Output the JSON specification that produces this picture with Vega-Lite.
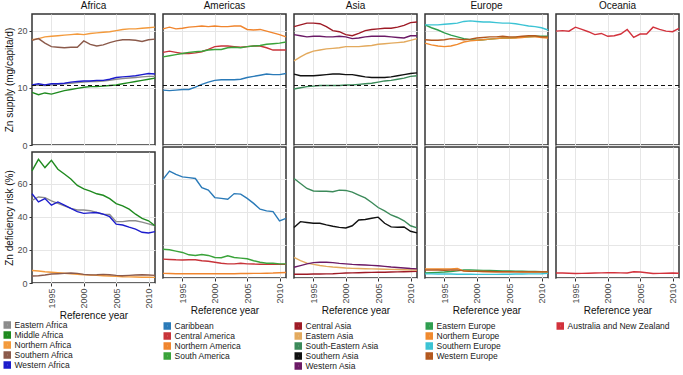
{
"$schema": "https://vega.github.io/schema/vega-lite/v6.json",
"padding": {"left": 3, "top": 0, "right": 2, "bottom": 0},
"background": "white",
"spacing": 0,
"config": {
  "font": "Liberation Sans",
  "view": {"stroke": "#333333", "strokeWidth": 1.5},
  "axis": {"labelFont": "Liberation Sans", "labelFontSize": 9, "labelColor": "#4d4d4d", "titleFont": "Liberation Sans", "titleFontSize": 10, "titleFontWeight": "normal", "titleColor": "#111", "gridColor": "#e6e6e6", "tickColor": "#333", "domain": false, "tickSize": 3, "labelPadding": 2, "titlePadding": 2},
  "title": {"font": "Liberation Sans", "fontSize": 10, "fontWeight": "normal", "color": "#111", "offset": 3},
  "legend": {"labelFont": "Liberation Sans", "labelFontSize": 8.5, "labelColor": "#222", "symbolType": "square", "symbolSize": 16, "symbolStrokeWidth": 3.5, "rowPadding": 0, "clipHeight": 10, "offset": 5, "padding": 0, "labelLimit": 200, "labelOffset": 3, "orient": "bottom", "direction": "vertical"}
},
"data": {"name": "zn"},
"resolve": {"scale": {"color": "independent"}, "legend": {"color": "independent"}},
"hconcat": [
 {"spacing": 0, "vconcat": [
  {"width": 123, "height": 131, "title": "Africa",
   "layer": [
    {"transform": [{"filter": {"field": "s", "oneOf": ["Eastern Africa","Middle Africa","Northern Africa","Southern Africa","Western Africa"]}}],
     "mark": {"type": "line", "strokeWidth": 1.4},
     "encoding": {
      "x": {"field": "yr", "type": "quantitative", "scale": {"domain": [1992, 2011], "nice": false, "zero": false}, "axis": {"values": [1995,2000,2005,2010], "labels": false, "ticks": false, "title": null, "tickSize": 0, "labelPadding": 0, "minExtent": 0, "maxExtent": 0}},
      "y": {"field": "sup", "type": "quantitative", "scale": {"domain": [0, 22.9], "nice": false}, "axis": {"values": [0,5,10,15,20], "title": "Zn supply (mg/capita/d)"}},
      "color": {"field": "s", "type": "nominal", "scale": {"domain": ["Eastern Africa","Middle Africa","Northern Africa","Southern Africa","Western Africa"], "range": ["#8c8c8c","#1f8a1f","#f39a3c","#8b5a4b","#1c1ccc"]}, "legend": {"title": null, "orient": "none", "legendX": -29, "legendY": 306}}}},
    {"data": {"values": [{"t": 10.4}]}, "mark": {"type": "rule", "strokeDash": [4,3], "color": "#111", "strokeWidth": 1}, "encoding": {"y": {"field": "t", "type": "quantitative"}}}
   ]},
  {"width": 123, "height": 131,
   "transform": [{"filter": {"field": "s", "oneOf": ["Eastern Africa","Middle Africa","Northern Africa","Southern Africa","Western Africa"]}}],
   "mark": {"type": "line", "strokeWidth": 1.4},
   "encoding": {
    "x": {"field": "yr", "type": "quantitative", "scale": {"domain": [1992, 2011], "nice": false, "zero": false}, "axis": {"values": [1995,2000,2005,2010], "format": "d", "labelAngle": -90, "title": "Reference year"}},
    "y": {"field": "risk", "type": "quantitative", "scale": {"domain": [0, 79], "nice": false}, "axis": {"values": [0,20,40,60], "title": "Zn deficiency risk (%)"}},
    "color": {"field": "s", "type": "nominal", "scale": {"domain": ["Eastern Africa","Middle Africa","Northern Africa","Southern Africa","Western Africa"], "range": ["#8c8c8c","#1f8a1f","#f39a3c","#8b5a4b","#1c1ccc"]}, "legend": {"title": null, "orient": "none", "legendX": -29, "legendY": 306}}}}
 ]},
 {"spacing": 0, "vconcat": [
  {"width": 123, "height": 131, "title": "Americas",
   "layer": [
    {"transform": [{"filter": {"field": "s", "oneOf": ["Caribbean","Central America","Northern America","South America"]}}],
     "mark": {"type": "line", "strokeWidth": 1.4},
     "encoding": {
      "x": {"field": "yr", "type": "quantitative", "scale": {"domain": [1992, 2011], "nice": false, "zero": false}, "axis": {"values": [1995,2000,2005,2010], "labels": false, "ticks": false, "title": null, "tickSize": 0, "labelPadding": 0, "minExtent": 0, "maxExtent": 0}},
      "y": {"field": "sup", "type": "quantitative", "scale": {"domain": [0, 22.9], "nice": false}, "axis": {"values": [0,5,10,15,20], "labels": false, "ticks": false, "title": null, "tickSize": 0, "labelPadding": 0, "minExtent": 0, "maxExtent": 0}},
      "color": {"field": "s", "type": "nominal", "scale": {"domain": ["Caribbean","Central America","Northern America","South America"], "range": ["#2a7ab8","#c8343a","#f0852e","#3aa33a"]}, "legend": {"title": null}}}},
    {"data": {"values": [{"t": 10.4}]}, "mark": {"type": "rule", "strokeDash": [4,3], "color": "#111", "strokeWidth": 1}, "encoding": {"y": {"field": "t", "type": "quantitative"}}}
   ]},
  {"width": 123, "height": 131,
   "transform": [{"filter": {"field": "s", "oneOf": ["Caribbean","Central America","Northern America","South America"]}}],
   "mark": {"type": "line", "strokeWidth": 1.4},
   "encoding": {
    "x": {"field": "yr", "type": "quantitative", "scale": {"domain": [1992, 2011], "nice": false, "zero": false}, "axis": {"values": [1995,2000,2005,2010], "format": "d", "labelAngle": -90, "title": "Reference year"}},
    "y": {"field": "risk", "type": "quantitative", "scale": {"domain": [0, 79], "nice": false}, "axis": {"values": [0,20,40,60], "labels": false, "ticks": false, "title": null, "tickSize": 0, "labelPadding": 0, "minExtent": 0, "maxExtent": 0}},
    "color": {"field": "s", "type": "nominal", "scale": {"domain": ["Caribbean","Central America","Northern America","South America"], "range": ["#2a7ab8","#c8343a","#f0852e","#3aa33a"]}, "legend": {"title": null}}}}
 ]},
 {"spacing": 0, "vconcat": [
  {"width": 123, "height": 131, "title": "Asia",
   "layer": [
    {"transform": [{"filter": {"field": "s", "oneOf": ["Central Asia","Eastern Asia","South-Eastern Asia","Southern Asia","Western Asia"]}}],
     "mark": {"type": "line", "strokeWidth": 1.4},
     "encoding": {
      "x": {"field": "yr", "type": "quantitative", "scale": {"domain": [1992, 2011], "nice": false, "zero": false}, "axis": {"values": [1995,2000,2005,2010], "labels": false, "ticks": false, "title": null, "tickSize": 0, "labelPadding": 0, "minExtent": 0, "maxExtent": 0}},
      "y": {"field": "sup", "type": "quantitative", "scale": {"domain": [0, 22.9], "nice": false}, "axis": {"values": [0,5,10,15,20], "labels": false, "ticks": false, "title": null, "tickSize": 0, "labelPadding": 0, "minExtent": 0, "maxExtent": 0}},
      "color": {"field": "s", "type": "nominal", "scale": {"domain": ["Central Asia","Eastern Asia","South-Eastern Asia","Southern Asia","Western Asia"], "range": ["#9e1b26","#e3aa5e","#3c8a5a","#111111","#6b1a66"]}, "legend": {"title": null}}}},
    {"data": {"values": [{"t": 10.4}]}, "mark": {"type": "rule", "strokeDash": [4,3], "color": "#111", "strokeWidth": 1}, "encoding": {"y": {"field": "t", "type": "quantitative"}}}
   ]},
  {"width": 123, "height": 131,
   "transform": [{"filter": {"field": "s", "oneOf": ["Central Asia","Eastern Asia","South-Eastern Asia","Southern Asia","Western Asia"]}}],
   "mark": {"type": "line", "strokeWidth": 1.4},
   "encoding": {
    "x": {"field": "yr", "type": "quantitative", "scale": {"domain": [1992, 2011], "nice": false, "zero": false}, "axis": {"values": [1995,2000,2005,2010], "format": "d", "labelAngle": -90, "title": "Reference year"}},
    "y": {"field": "risk", "type": "quantitative", "scale": {"domain": [0, 79], "nice": false}, "axis": {"values": [0,20,40,60], "labels": false, "ticks": false, "title": null, "tickSize": 0, "labelPadding": 0, "minExtent": 0, "maxExtent": 0}},
    "color": {"field": "s", "type": "nominal", "scale": {"domain": ["Central Asia","Eastern Asia","South-Eastern Asia","Southern Asia","Western Asia"], "range": ["#9e1b26","#e3aa5e","#3c8a5a","#111111","#6b1a66"]}, "legend": {"title": null}}}}
 ]},
 {"spacing": 0, "vconcat": [
  {"width": 123, "height": 131, "title": "Europe",
   "layer": [
    {"transform": [{"filter": {"field": "s", "oneOf": ["Eastern Europe","Northern Europe","Southern Europe","Western Europe"]}}],
     "mark": {"type": "line", "strokeWidth": 1.4},
     "encoding": {
      "x": {"field": "yr", "type": "quantitative", "scale": {"domain": [1992, 2011], "nice": false, "zero": false}, "axis": {"values": [1995,2000,2005,2010], "labels": false, "ticks": false, "title": null, "tickSize": 0, "labelPadding": 0, "minExtent": 0, "maxExtent": 0}},
      "y": {"field": "sup", "type": "quantitative", "scale": {"domain": [0, 22.9], "nice": false}, "axis": {"values": [0,5,10,15,20], "labels": false, "ticks": false, "title": null, "tickSize": 0, "labelPadding": 0, "minExtent": 0, "maxExtent": 0}},
      "color": {"field": "s", "type": "nominal", "scale": {"domain": ["Eastern Europe","Northern Europe","Southern Europe","Western Europe"], "range": ["#2f9e4f","#f08a2e","#3cc3d4","#b3581e"]}, "legend": {"title": null}}}},
    {"data": {"values": [{"t": 10.4}]}, "mark": {"type": "rule", "strokeDash": [4,3], "color": "#111", "strokeWidth": 1}, "encoding": {"y": {"field": "t", "type": "quantitative"}}}
   ]},
  {"width": 123, "height": 131,
   "transform": [{"filter": {"field": "s", "oneOf": ["Eastern Europe","Northern Europe","Southern Europe","Western Europe"]}}],
   "mark": {"type": "line", "strokeWidth": 1.4},
   "encoding": {
    "x": {"field": "yr", "type": "quantitative", "scale": {"domain": [1992, 2011], "nice": false, "zero": false}, "axis": {"values": [1995,2000,2005,2010], "format": "d", "labelAngle": -90, "title": "Reference year"}},
    "y": {"field": "risk", "type": "quantitative", "scale": {"domain": [0, 79], "nice": false}, "axis": {"values": [0,20,40,60], "labels": false, "ticks": false, "title": null, "tickSize": 0, "labelPadding": 0, "minExtent": 0, "maxExtent": 0}},
    "color": {"field": "s", "type": "nominal", "scale": {"domain": ["Eastern Europe","Northern Europe","Southern Europe","Western Europe"], "range": ["#2f9e4f","#f08a2e","#3cc3d4","#b3581e"]}, "legend": {"title": null}}}}
 ]},
 {"spacing": 0, "vconcat": [
  {"width": 123, "height": 131, "title": "Oceania",
   "layer": [
    {"transform": [{"filter": {"field": "s", "oneOf": ["Australia and New Zealand"]}}],
     "mark": {"type": "line", "strokeWidth": 1.4},
     "encoding": {
      "x": {"field": "yr", "type": "quantitative", "scale": {"domain": [1992, 2011], "nice": false, "zero": false}, "axis": {"values": [1995,2000,2005,2010], "labels": false, "ticks": false, "title": null, "tickSize": 0, "labelPadding": 0, "minExtent": 0, "maxExtent": 0}},
      "y": {"field": "sup", "type": "quantitative", "scale": {"domain": [0, 22.9], "nice": false}, "axis": {"values": [0,5,10,15,20], "labels": false, "ticks": false, "title": null, "tickSize": 0, "labelPadding": 0, "minExtent": 0, "maxExtent": 0}},
      "color": {"field": "s", "type": "nominal", "scale": {"domain": ["Australia and New Zealand"], "range": ["#d2323c"]}, "legend": {"title": null}}}},
    {"data": {"values": [{"t": 10.4}]}, "mark": {"type": "rule", "strokeDash": [4,3], "color": "#111", "strokeWidth": 1}, "encoding": {"y": {"field": "t", "type": "quantitative"}}}
   ]},
  {"width": 123, "height": 131,
   "transform": [{"filter": {"field": "s", "oneOf": ["Australia and New Zealand"]}}],
   "mark": {"type": "line", "strokeWidth": 1.4},
   "encoding": {
    "x": {"field": "yr", "type": "quantitative", "scale": {"domain": [1992, 2011], "nice": false, "zero": false}, "axis": {"values": [1995,2000,2005,2010], "format": "d", "labelAngle": -90, "title": "Reference year"}},
    "y": {"field": "risk", "type": "quantitative", "scale": {"domain": [0, 79], "nice": false}, "axis": {"values": [0,20,40,60], "labels": false, "ticks": false, "title": null, "tickSize": 0, "labelPadding": 0, "minExtent": 0, "maxExtent": 0}},
    "color": {"field": "s", "type": "nominal", "scale": {"domain": ["Australia and New Zealand"], "range": ["#d2323c"]}, "legend": {"title": null}}}}
 ]}
],
"datasets": {"zn": [
{"s":"Eastern Africa","yr":1992,"sup":10.4,"risk":49.9},{"s":"Eastern Africa","yr":1993,"sup":10.5,"risk":51.9},{"s":"Eastern Africa","yr":1994,"sup":10.4,"risk":51.5},{"s":"Eastern Africa","yr":1995,"sup":10.5,"risk":49.5},{"s":"Eastern Africa","yr":1996,"sup":10.6,"risk":48.0},{"s":"Eastern Africa","yr":1997,"sup":10.7,"risk":46.5},{"s":"Eastern Africa","yr":1998,"sup":10.8,"risk":45.0},{"s":"Eastern Africa","yr":1999,"sup":10.9,"risk":44.0},{"s":"Eastern Africa","yr":2000,"sup":11.0,"risk":44.0},{"s":"Eastern Africa","yr":2001,"sup":11.1,"risk":43.6},{"s":"Eastern Africa","yr":2002,"sup":11.1,"risk":42.5},{"s":"Eastern Africa","yr":2003,"sup":11.2,"risk":41.5},{"s":"Eastern Africa","yr":2004,"sup":11.3,"risk":41.3},{"s":"Eastern Africa","yr":2005,"sup":11.5,"risk":37.0},{"s":"Eastern Africa","yr":2006,"sup":11.6,"risk":37.0},{"s":"Eastern Africa","yr":2007,"sup":11.7,"risk":37.5},{"s":"Eastern Africa","yr":2008,"sup":11.8,"risk":37.5},{"s":"Eastern Africa","yr":2009,"sup":11.9,"risk":36.7},{"s":"Eastern Africa","yr":2010,"sup":12.0,"risk":35.7},{"s":"Eastern Africa","yr":2011,"sup":12.0,"risk":34.5},
{"s":"Middle Africa","yr":1992,"sup":9.2,"risk":67.6},{"s":"Middle Africa","yr":1993,"sup":8.8,"risk":74.6},{"s":"Middle Africa","yr":1994,"sup":9.1,"risk":69.6},{"s":"Middle Africa","yr":1995,"sup":8.9,"risk":74.0},{"s":"Middle Africa","yr":1996,"sup":9.2,"risk":68.6},{"s":"Middle Africa","yr":1997,"sup":9.5,"risk":65.7},{"s":"Middle Africa","yr":1998,"sup":9.7,"risk":62.7},{"s":"Middle Africa","yr":1999,"sup":9.9,"risk":58.8},{"s":"Middle Africa","yr":2000,"sup":10.1,"risk":56.8},{"s":"Middle Africa","yr":2001,"sup":10.2,"risk":55.4},{"s":"Middle Africa","yr":2002,"sup":10.2,"risk":53.8},{"s":"Middle Africa","yr":2003,"sup":10.3,"risk":52.9},{"s":"Middle Africa","yr":2004,"sup":10.4,"risk":50.9},{"s":"Middle Africa","yr":2005,"sup":10.5,"risk":47.9},{"s":"Middle Africa","yr":2006,"sup":10.7,"risk":46.5},{"s":"Middle Africa","yr":2007,"sup":10.9,"risk":44.5},{"s":"Middle Africa","yr":2008,"sup":11.1,"risk":41.5},{"s":"Middle Africa","yr":2009,"sup":11.3,"risk":39.0},{"s":"Middle Africa","yr":2010,"sup":11.5,"risk":37.5},{"s":"Middle Africa","yr":2011,"sup":11.7,"risk":34.5},
{"s":"Northern Africa","yr":1992,"sup":18.4,"risk":7.5},{"s":"Northern Africa","yr":1993,"sup":18.6,"risk":7.2},{"s":"Northern Africa","yr":1994,"sup":18.9,"risk":6.8},{"s":"Northern Africa","yr":1995,"sup":19.0,"risk":6.5},{"s":"Northern Africa","yr":1996,"sup":19.1,"risk":6.2},{"s":"Northern Africa","yr":1997,"sup":19.2,"risk":5.9},{"s":"Northern Africa","yr":1998,"sup":19.3,"risk":5.6},{"s":"Northern Africa","yr":1999,"sup":19.4,"risk":5.3},{"s":"Northern Africa","yr":2000,"sup":19.3,"risk":5.0},{"s":"Northern Africa","yr":2001,"sup":19.5,"risk":4.8},{"s":"Northern Africa","yr":2002,"sup":19.6,"risk":4.6},{"s":"Northern Africa","yr":2003,"sup":19.7,"risk":4.4},{"s":"Northern Africa","yr":2004,"sup":19.8,"risk":4.2},{"s":"Northern Africa","yr":2005,"sup":20.0,"risk":4.0},{"s":"Northern Africa","yr":2006,"sup":20.2,"risk":3.8},{"s":"Northern Africa","yr":2007,"sup":20.3,"risk":3.7},{"s":"Northern Africa","yr":2008,"sup":20.3,"risk":3.6},{"s":"Northern Africa","yr":2009,"sup":20.4,"risk":3.5},{"s":"Northern Africa","yr":2010,"sup":20.5,"risk":3.5},{"s":"Northern Africa","yr":2011,"sup":20.6,"risk":3.4},
{"s":"Southern Africa","yr":1992,"sup":18.3,"risk":4.2},{"s":"Southern Africa","yr":1993,"sup":18.6,"risk":4.4},{"s":"Southern Africa","yr":1994,"sup":17.8,"risk":4.8},{"s":"Southern Africa","yr":1995,"sup":17.2,"risk":5.4},{"s":"Southern Africa","yr":1996,"sup":17.1,"risk":5.6},{"s":"Southern Africa","yr":1997,"sup":17.0,"risk":5.8},{"s":"Southern Africa","yr":1998,"sup":17.1,"risk":6.0},{"s":"Southern Africa","yr":1999,"sup":17.1,"risk":5.8},{"s":"Southern Africa","yr":2000,"sup":18.2,"risk":5.2},{"s":"Southern Africa","yr":2001,"sup":17.6,"risk":4.9},{"s":"Southern Africa","yr":2002,"sup":17.3,"risk":5.0},{"s":"Southern Africa","yr":2003,"sup":17.5,"risk":5.2},{"s":"Southern Africa","yr":2004,"sup":17.9,"risk":5.0},{"s":"Southern Africa","yr":2005,"sup":18.2,"risk":4.6},{"s":"Southern Africa","yr":2006,"sup":18.4,"risk":4.4},{"s":"Southern Africa","yr":2007,"sup":18.4,"risk":4.6},{"s":"Southern Africa","yr":2008,"sup":18.3,"risk":4.8},{"s":"Southern Africa","yr":2009,"sup":18.1,"risk":5.0},{"s":"Southern Africa","yr":2010,"sup":18.4,"risk":4.8},{"s":"Southern Africa","yr":2011,"sup":18.5,"risk":4.6},
{"s":"Western Africa","yr":1992,"sup":10.5,"risk":53.8},{"s":"Western Africa","yr":1993,"sup":10.7,"risk":48.9},{"s":"Western Africa","yr":1994,"sup":10.5,"risk":50.9},{"s":"Western Africa","yr":1995,"sup":10.7,"risk":46.9},{"s":"Western Africa","yr":1996,"sup":10.7,"risk":48.9},{"s":"Western Africa","yr":1997,"sup":10.8,"risk":46.9},{"s":"Western Africa","yr":1998,"sup":11.0,"risk":45.0},{"s":"Western Africa","yr":1999,"sup":11.1,"risk":43.0},{"s":"Western Africa","yr":2000,"sup":11.2,"risk":42.0},{"s":"Western Africa","yr":2001,"sup":11.2,"risk":42.3},{"s":"Western Africa","yr":2002,"sup":11.3,"risk":42.5},{"s":"Western Africa","yr":2003,"sup":11.3,"risk":41.5},{"s":"Western Africa","yr":2004,"sup":11.5,"risk":40.0},{"s":"Western Africa","yr":2005,"sup":11.8,"risk":35.5},{"s":"Western Africa","yr":2006,"sup":11.9,"risk":35.0},{"s":"Western Africa","yr":2007,"sup":12.0,"risk":33.7},{"s":"Western Africa","yr":2008,"sup":12.1,"risk":32.5},{"s":"Western Africa","yr":2009,"sup":12.3,"risk":30.6},{"s":"Western Africa","yr":2010,"sup":12.5,"risk":30.2},{"s":"Western Africa","yr":2011,"sup":12.4,"risk":31.0},
{"s":"Caribbean","yr":1992,"sup":9.6,"risk":59.5},{"s":"Caribbean","yr":1993,"sup":9.5,"risk":64.5},{"s":"Caribbean","yr":1994,"sup":9.6,"risk":62.5},{"s":"Caribbean","yr":1995,"sup":9.7,"risk":61.0},{"s":"Caribbean","yr":1996,"sup":9.7,"risk":60.5},{"s":"Caribbean","yr":1997,"sup":10.1,"risk":60.0},{"s":"Caribbean","yr":1998,"sup":10.6,"risk":54.5},{"s":"Caribbean","yr":1999,"sup":11.0,"risk":53.0},{"s":"Caribbean","yr":2000,"sup":11.3,"risk":48.5},{"s":"Caribbean","yr":2001,"sup":11.4,"risk":48.0},{"s":"Caribbean","yr":2002,"sup":11.4,"risk":47.5},{"s":"Caribbean","yr":2003,"sup":11.4,"risk":50.9},{"s":"Caribbean","yr":2004,"sup":11.5,"risk":50.6},{"s":"Caribbean","yr":2005,"sup":11.8,"risk":48.0},{"s":"Caribbean","yr":2006,"sup":12.0,"risk":45.0},{"s":"Caribbean","yr":2007,"sup":12.2,"risk":41.5},{"s":"Caribbean","yr":2008,"sup":12.4,"risk":40.5},{"s":"Caribbean","yr":2009,"sup":12.3,"risk":40.0},{"s":"Caribbean","yr":2010,"sup":12.3,"risk":34.5},{"s":"Caribbean","yr":2011,"sup":12.5,"risk":36.0},
{"s":"Central America","yr":1992,"sup":16.2,"risk":11.4},{"s":"Central America","yr":1993,"sup":16.4,"risk":11.2},{"s":"Central America","yr":1994,"sup":16.2,"risk":11.0},{"s":"Central America","yr":1995,"sup":16.0,"risk":10.9},{"s":"Central America","yr":1996,"sup":16.0,"risk":11.0},{"s":"Central America","yr":1997,"sup":16.1,"risk":11.0},{"s":"Central America","yr":1998,"sup":16.3,"risk":10.4},{"s":"Central America","yr":1999,"sup":16.7,"risk":10.1},{"s":"Central America","yr":2000,"sup":17.2,"risk":9.5},{"s":"Central America","yr":2001,"sup":17.3,"risk":8.9},{"s":"Central America","yr":2002,"sup":17.3,"risk":8.5},{"s":"Central America","yr":2003,"sup":17.2,"risk":8.5},{"s":"Central America","yr":2004,"sup":17.1,"risk":8.9},{"s":"Central America","yr":2005,"sup":17.2,"risk":8.5},{"s":"Central America","yr":2006,"sup":17.3,"risk":8.4},{"s":"Central America","yr":2007,"sup":17.3,"risk":8.3},{"s":"Central America","yr":2008,"sup":17.0,"risk":8.2},{"s":"Central America","yr":2009,"sup":16.6,"risk":8.2},{"s":"Central America","yr":2010,"sup":16.6,"risk":8.2},{"s":"Central America","yr":2011,"sup":16.6,"risk":8.2},
{"s":"Northern America","yr":1992,"sup":20.3,"risk":2.8},{"s":"Northern America","yr":1993,"sup":20.6,"risk":2.7},{"s":"Northern America","yr":1994,"sup":20.3,"risk":2.6},{"s":"Northern America","yr":1995,"sup":20.4,"risk":2.6},{"s":"Northern America","yr":1996,"sup":20.6,"risk":2.6},{"s":"Northern America","yr":1997,"sup":20.7,"risk":2.6},{"s":"Northern America","yr":1998,"sup":20.8,"risk":2.6},{"s":"Northern America","yr":1999,"sup":20.7,"risk":2.6},{"s":"Northern America","yr":2000,"sup":20.8,"risk":2.6},{"s":"Northern America","yr":2001,"sup":20.7,"risk":2.6},{"s":"Northern America","yr":2002,"sup":20.7,"risk":2.6},{"s":"Northern America","yr":2003,"sup":20.8,"risk":2.6},{"s":"Northern America","yr":2004,"sup":20.8,"risk":2.7},{"s":"Northern America","yr":2005,"sup":20.2,"risk":2.7},{"s":"Northern America","yr":2006,"sup":20.1,"risk":2.8},{"s":"Northern America","yr":2007,"sup":20.2,"risk":2.8},{"s":"Northern America","yr":2008,"sup":19.9,"risk":2.9},{"s":"Northern America","yr":2009,"sup":19.6,"risk":3.0},{"s":"Northern America","yr":2010,"sup":19.3,"risk":3.2},{"s":"Northern America","yr":2011,"sup":18.9,"risk":3.3},
{"s":"South America","yr":1992,"sup":15.4,"risk":17.3},{"s":"South America","yr":1993,"sup":15.6,"risk":17.0},{"s":"South America","yr":1994,"sup":15.8,"risk":16.2},{"s":"South America","yr":1995,"sup":16.0,"risk":15.4},{"s":"South America","yr":1996,"sup":16.2,"risk":14.0},{"s":"South America","yr":1997,"sup":16.3,"risk":13.6},{"s":"South America","yr":1998,"sup":16.4,"risk":14.2},{"s":"South America","yr":1999,"sup":16.6,"risk":13.6},{"s":"South America","yr":2000,"sup":16.7,"risk":12.4},{"s":"South America","yr":2001,"sup":16.7,"risk":12.2},{"s":"South America","yr":2002,"sup":17.0,"risk":13.4},{"s":"South America","yr":2003,"sup":17.1,"risk":12.4},{"s":"South America","yr":2004,"sup":17.0,"risk":12.0},{"s":"South America","yr":2005,"sup":17.2,"risk":11.6},{"s":"South America","yr":2006,"sup":17.3,"risk":10.4},{"s":"South America","yr":2007,"sup":17.4,"risk":9.5},{"s":"South America","yr":2008,"sup":17.6,"risk":8.9},{"s":"South America","yr":2009,"sup":17.7,"risk":8.9},{"s":"South America","yr":2010,"sup":17.8,"risk":8.5},{"s":"South America","yr":2011,"sup":18.0,"risk":8.5},
{"s":"Central Asia","yr":1992,"sup":20.7,"risk":2.3},{"s":"Central Asia","yr":1993,"sup":21.0,"risk":2.3},{"s":"Central Asia","yr":1994,"sup":21.3,"risk":2.3},{"s":"Central Asia","yr":1995,"sup":21.3,"risk":2.4},{"s":"Central Asia","yr":1996,"sup":21.2,"risk":2.4},{"s":"Central Asia","yr":1997,"sup":20.7,"risk":2.5},{"s":"Central Asia","yr":1998,"sup":20.0,"risk":2.6},{"s":"Central Asia","yr":1999,"sup":19.8,"risk":2.8},{"s":"Central Asia","yr":2000,"sup":19.3,"risk":3.0},{"s":"Central Asia","yr":2001,"sup":19.1,"risk":3.1},{"s":"Central Asia","yr":2002,"sup":19.5,"risk":3.2},{"s":"Central Asia","yr":2003,"sup":20.0,"risk":3.3},{"s":"Central Asia","yr":2004,"sup":20.2,"risk":3.4},{"s":"Central Asia","yr":2005,"sup":20.3,"risk":3.5},{"s":"Central Asia","yr":2006,"sup":20.4,"risk":3.5},{"s":"Central Asia","yr":2007,"sup":20.4,"risk":3.6},{"s":"Central Asia","yr":2008,"sup":20.6,"risk":3.7},{"s":"Central Asia","yr":2009,"sup":20.9,"risk":3.8},{"s":"Central Asia","yr":2010,"sup":21.4,"risk":3.9},{"s":"Central Asia","yr":2011,"sup":21.5,"risk":4.0},
{"s":"Eastern Asia","yr":1992,"sup":14.7,"risk":12.4},{"s":"Eastern Asia","yr":1993,"sup":15.4,"risk":10.5},{"s":"Eastern Asia","yr":1994,"sup":16.0,"risk":9.0},{"s":"Eastern Asia","yr":1995,"sup":16.4,"risk":8.2},{"s":"Eastern Asia","yr":1996,"sup":16.6,"risk":7.5},{"s":"Eastern Asia","yr":1997,"sup":16.8,"risk":7.0},{"s":"Eastern Asia","yr":1998,"sup":16.9,"risk":6.6},{"s":"Eastern Asia","yr":1999,"sup":17.0,"risk":6.3},{"s":"Eastern Asia","yr":2000,"sup":17.2,"risk":6.0},{"s":"Eastern Asia","yr":2001,"sup":17.2,"risk":5.8},{"s":"Eastern Asia","yr":2002,"sup":17.2,"risk":5.7},{"s":"Eastern Asia","yr":2003,"sup":17.3,"risk":5.6},{"s":"Eastern Asia","yr":2004,"sup":17.4,"risk":5.5},{"s":"Eastern Asia","yr":2005,"sup":17.6,"risk":5.4},{"s":"Eastern Asia","yr":2006,"sup":17.7,"risk":5.3},{"s":"Eastern Asia","yr":2007,"sup":17.8,"risk":5.2},{"s":"Eastern Asia","yr":2008,"sup":17.9,"risk":5.1},{"s":"Eastern Asia","yr":2009,"sup":18.0,"risk":5.0},{"s":"Eastern Asia","yr":2010,"sup":18.3,"risk":4.9},{"s":"Eastern Asia","yr":2011,"sup":18.6,"risk":4.8},
{"s":"South-Eastern Asia","yr":1992,"sup":9.8,"risk":60.0},{"s":"South-Eastern Asia","yr":1993,"sup":10.0,"risk":57.0},{"s":"South-Eastern Asia","yr":1994,"sup":10.2,"risk":54.0},{"s":"South-Eastern Asia","yr":1995,"sup":10.3,"risk":52.5},{"s":"South-Eastern Asia","yr":1996,"sup":10.4,"risk":52.3},{"s":"South-Eastern Asia","yr":1997,"sup":10.4,"risk":52.3},{"s":"South-Eastern Asia","yr":1998,"sup":10.4,"risk":52.0},{"s":"South-Eastern Asia","yr":1999,"sup":10.4,"risk":53.0},{"s":"South-Eastern Asia","yr":2000,"sup":10.5,"risk":52.8},{"s":"South-Eastern Asia","yr":2001,"sup":10.5,"risk":51.8},{"s":"South-Eastern Asia","yr":2002,"sup":10.6,"risk":50.0},{"s":"South-Eastern Asia","yr":2003,"sup":10.7,"risk":48.3},{"s":"South-Eastern Asia","yr":2004,"sup":10.8,"risk":45.5},{"s":"South-Eastern Asia","yr":2005,"sup":11.0,"risk":42.5},{"s":"South-Eastern Asia","yr":2006,"sup":11.2,"risk":40.5},{"s":"South-Eastern Asia","yr":2007,"sup":11.3,"risk":38.0},{"s":"South-Eastern Asia","yr":2008,"sup":11.5,"risk":36.5},{"s":"South-Eastern Asia","yr":2009,"sup":11.7,"risk":34.5},{"s":"South-Eastern Asia","yr":2010,"sup":12.0,"risk":31.5},{"s":"South-Eastern Asia","yr":2011,"sup":12.1,"risk":30.2},
{"s":"Southern Asia","yr":1992,"sup":12.4,"risk":30.5},{"s":"Southern Asia","yr":1993,"sup":12.1,"risk":34.0},{"s":"Southern Asia","yr":1994,"sup":12.1,"risk":33.5},{"s":"Southern Asia","yr":1995,"sup":12.1,"risk":33.0},{"s":"Southern Asia","yr":1996,"sup":12.2,"risk":33.0},{"s":"Southern Asia","yr":1997,"sup":12.3,"risk":32.0},{"s":"Southern Asia","yr":1998,"sup":12.4,"risk":31.2},{"s":"Southern Asia","yr":1999,"sup":12.4,"risk":30.5},{"s":"Southern Asia","yr":2000,"sup":12.3,"risk":30.2},{"s":"Southern Asia","yr":2001,"sup":12.3,"risk":31.5},{"s":"Southern Asia","yr":2002,"sup":12.1,"risk":35.0},{"s":"Southern Asia","yr":2003,"sup":11.9,"risk":35.3},{"s":"Southern Asia","yr":2004,"sup":11.8,"risk":36.0},{"s":"Southern Asia","yr":2005,"sup":11.8,"risk":36.7},{"s":"Southern Asia","yr":2006,"sup":11.8,"risk":33.0},{"s":"Southern Asia","yr":2007,"sup":11.9,"risk":30.8},{"s":"Southern Asia","yr":2008,"sup":12.1,"risk":30.6},{"s":"Southern Asia","yr":2009,"sup":12.3,"risk":30.8},{"s":"Southern Asia","yr":2010,"sup":12.5,"risk":28.2},{"s":"Southern Asia","yr":2011,"sup":12.6,"risk":27.2},
{"s":"Western Asia","yr":1992,"sup":19.3,"risk":6.5},{"s":"Western Asia","yr":1993,"sup":19.1,"risk":7.5},{"s":"Western Asia","yr":1994,"sup":18.9,"risk":8.5},{"s":"Western Asia","yr":1995,"sup":19.0,"risk":9.3},{"s":"Western Asia","yr":1996,"sup":19.0,"risk":9.5},{"s":"Western Asia","yr":1997,"sup":18.9,"risk":9.5},{"s":"Western Asia","yr":1998,"sup":18.9,"risk":9.3},{"s":"Western Asia","yr":1999,"sup":19.0,"risk":8.8},{"s":"Western Asia","yr":2000,"sup":18.9,"risk":8.5},{"s":"Western Asia","yr":2001,"sup":18.6,"risk":8.2},{"s":"Western Asia","yr":2002,"sup":18.7,"risk":8.0},{"s":"Western Asia","yr":2003,"sup":18.9,"risk":7.8},{"s":"Western Asia","yr":2004,"sup":19.0,"risk":7.6},{"s":"Western Asia","yr":2005,"sup":19.0,"risk":7.4},{"s":"Western Asia","yr":2006,"sup":19.0,"risk":7.0},{"s":"Western Asia","yr":2007,"sup":18.9,"risk":6.6},{"s":"Western Asia","yr":2008,"sup":18.8,"risk":6.3},{"s":"Western Asia","yr":2009,"sup":18.7,"risk":6.0},{"s":"Western Asia","yr":2010,"sup":19.1,"risk":5.7},{"s":"Western Asia","yr":2011,"sup":19.1,"risk":5.5},
{"s":"Eastern Europe","yr":1992,"sup":21.0,"risk":3.0},{"s":"Eastern Europe","yr":1993,"sup":20.5,"risk":3.2},{"s":"Eastern Europe","yr":1994,"sup":20.1,"risk":3.4},{"s":"Eastern Europe","yr":1995,"sup":19.6,"risk":3.6},{"s":"Eastern Europe","yr":1996,"sup":19.2,"risk":3.9},{"s":"Eastern Europe","yr":1997,"sup":18.9,"risk":4.3},{"s":"Eastern Europe","yr":1998,"sup":18.6,"risk":4.8},{"s":"Eastern Europe","yr":1999,"sup":18.4,"risk":4.8},{"s":"Eastern Europe","yr":2000,"sup":18.3,"risk":4.7},{"s":"Eastern Europe","yr":2001,"sup":18.4,"risk":4.6},{"s":"Eastern Europe","yr":2002,"sup":18.5,"risk":4.5},{"s":"Eastern Europe","yr":2003,"sup":18.6,"risk":4.4},{"s":"Eastern Europe","yr":2004,"sup":18.7,"risk":4.3},{"s":"Eastern Europe","yr":2005,"sup":18.7,"risk":4.2},{"s":"Eastern Europe","yr":2006,"sup":18.8,"risk":4.1},{"s":"Eastern Europe","yr":2007,"sup":18.9,"risk":4.1},{"s":"Eastern Europe","yr":2008,"sup":18.9,"risk":4.0},{"s":"Eastern Europe","yr":2009,"sup":19.0,"risk":3.9},{"s":"Eastern Europe","yr":2010,"sup":19.0,"risk":3.8},{"s":"Eastern Europe","yr":2011,"sup":19.0,"risk":3.8},
{"s":"Northern Europe","yr":1992,"sup":17.8,"risk":5.5},{"s":"Northern Europe","yr":1993,"sup":17.5,"risk":5.5},{"s":"Northern Europe","yr":1994,"sup":17.3,"risk":5.4},{"s":"Northern Europe","yr":1995,"sup":17.2,"risk":5.4},{"s":"Northern Europe","yr":1996,"sup":17.3,"risk":5.5},{"s":"Northern Europe","yr":1997,"sup":17.6,"risk":5.8},{"s":"Northern Europe","yr":1998,"sup":18.0,"risk":4.2},{"s":"Northern Europe","yr":1999,"sup":18.2,"risk":4.0},{"s":"Northern Europe","yr":2000,"sup":18.3,"risk":4.0},{"s":"Northern Europe","yr":2001,"sup":18.4,"risk":3.9},{"s":"Northern Europe","yr":2002,"sup":18.5,"risk":3.8},{"s":"Northern Europe","yr":2003,"sup":18.6,"risk":3.8},{"s":"Northern Europe","yr":2004,"sup":18.7,"risk":3.7},{"s":"Northern Europe","yr":2005,"sup":18.7,"risk":3.7},{"s":"Northern Europe","yr":2006,"sup":18.7,"risk":3.7},{"s":"Northern Europe","yr":2007,"sup":18.8,"risk":3.6},{"s":"Northern Europe","yr":2008,"sup":18.9,"risk":3.6},{"s":"Northern Europe","yr":2009,"sup":18.9,"risk":3.6},{"s":"Northern Europe","yr":2010,"sup":18.8,"risk":3.7},{"s":"Northern Europe","yr":2011,"sup":18.7,"risk":3.7},
{"s":"Southern Europe","yr":1992,"sup":21.0,"risk":2.5},{"s":"Southern Europe","yr":1993,"sup":21.0,"risk":2.5},{"s":"Southern Europe","yr":1994,"sup":21.0,"risk":2.4},{"s":"Southern Europe","yr":1995,"sup":21.1,"risk":2.4},{"s":"Southern Europe","yr":1996,"sup":21.2,"risk":2.4},{"s":"Southern Europe","yr":1997,"sup":21.3,"risk":2.3},{"s":"Southern Europe","yr":1998,"sup":21.6,"risk":2.3},{"s":"Southern Europe","yr":1999,"sup":21.7,"risk":2.3},{"s":"Southern Europe","yr":2000,"sup":21.6,"risk":2.2},{"s":"Southern Europe","yr":2001,"sup":21.5,"risk":2.2},{"s":"Southern Europe","yr":2002,"sup":21.5,"risk":2.2},{"s":"Southern Europe","yr":2003,"sup":21.4,"risk":2.2},{"s":"Southern Europe","yr":2004,"sup":21.3,"risk":2.3},{"s":"Southern Europe","yr":2005,"sup":21.3,"risk":2.3},{"s":"Southern Europe","yr":2006,"sup":21.2,"risk":2.4},{"s":"Southern Europe","yr":2007,"sup":21.0,"risk":2.4},{"s":"Southern Europe","yr":2008,"sup":20.8,"risk":2.5},{"s":"Southern Europe","yr":2009,"sup":20.7,"risk":2.5},{"s":"Southern Europe","yr":2010,"sup":20.5,"risk":2.6},{"s":"Southern Europe","yr":2011,"sup":20.1,"risk":2.8},
{"s":"Western Europe","yr":1992,"sup":18.4,"risk":4.8},{"s":"Western Europe","yr":1993,"sup":18.3,"risk":4.9},{"s":"Western Europe","yr":1994,"sup":18.3,"risk":4.8},{"s":"Western Europe","yr":1995,"sup":18.4,"risk":4.7},{"s":"Western Europe","yr":1996,"sup":18.6,"risk":4.8},{"s":"Western Europe","yr":1997,"sup":18.5,"risk":4.9},{"s":"Western Europe","yr":1998,"sup":18.4,"risk":4.3},{"s":"Western Europe","yr":1999,"sup":18.5,"risk":4.1},{"s":"Western Europe","yr":2000,"sup":18.7,"risk":4.0},{"s":"Western Europe","yr":2001,"sup":18.8,"risk":3.9},{"s":"Western Europe","yr":2002,"sup":18.9,"risk":3.9},{"s":"Western Europe","yr":2003,"sup":18.9,"risk":3.8},{"s":"Western Europe","yr":2004,"sup":19.0,"risk":3.8},{"s":"Western Europe","yr":2005,"sup":18.9,"risk":3.8},{"s":"Western Europe","yr":2006,"sup":18.9,"risk":3.7},{"s":"Western Europe","yr":2007,"sup":19.0,"risk":3.7},{"s":"Western Europe","yr":2008,"sup":19.1,"risk":3.7},{"s":"Western Europe","yr":2009,"sup":19.1,"risk":3.7},{"s":"Western Europe","yr":2010,"sup":18.9,"risk":3.7},{"s":"Western Europe","yr":2011,"sup":18.9,"risk":3.7},
{"s":"Australia and New Zealand","yr":1992,"sup":19.9,"risk":3.0},{"s":"Australia and New Zealand","yr":1993,"sup":20.0,"risk":3.0},{"s":"Australia and New Zealand","yr":1994,"sup":19.9,"risk":2.9},{"s":"Australia and New Zealand","yr":1995,"sup":20.6,"risk":2.7},{"s":"Australia and New Zealand","yr":1996,"sup":20.2,"risk":2.8},{"s":"Australia and New Zealand","yr":1997,"sup":19.8,"risk":2.9},{"s":"Australia and New Zealand","yr":1998,"sup":19.3,"risk":3.0},{"s":"Australia and New Zealand","yr":1999,"sup":19.5,"risk":3.1},{"s":"Australia and New Zealand","yr":2000,"sup":19.0,"risk":3.2},{"s":"Australia and New Zealand","yr":2001,"sup":19.1,"risk":3.2},{"s":"Australia and New Zealand","yr":2002,"sup":19.4,"risk":3.1},{"s":"Australia and New Zealand","yr":2003,"sup":20.2,"risk":3.0},{"s":"Australia and New Zealand","yr":2004,"sup":18.8,"risk":3.8},{"s":"Australia and New Zealand","yr":2005,"sup":19.4,"risk":3.6},{"s":"Australia and New Zealand","yr":2006,"sup":19.4,"risk":3.2},{"s":"Australia and New Zealand","yr":2007,"sup":20.6,"risk":2.7},{"s":"Australia and New Zealand","yr":2008,"sup":20.2,"risk":2.8},{"s":"Australia and New Zealand","yr":2009,"sup":19.9,"risk":2.9},{"s":"Australia and New Zealand","yr":2010,"sup":19.8,"risk":3.0},{"s":"Australia and New Zealand","yr":2011,"sup":20.4,"risk":2.9}
]}
}
